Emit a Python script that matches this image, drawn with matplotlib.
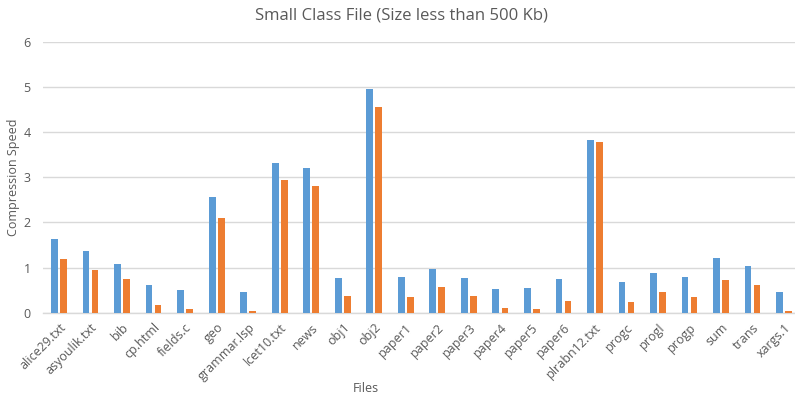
import numpy as np
import matplotlib
matplotlib.use("Agg")
import matplotlib.pyplot as plt

plt.rcParams['font.family'] = ['Open Sans', 'DejaVu Sans']

# ------------------------------------------------------------------
# Data: compression speed per Canterbury/Calgary small file
# ------------------------------------------------------------------
files = ["alice29.txt", "asyoulik.txt", "bib", "cp.html", "fields.c", "geo",
         "grammar.lsp", "lcet10.txt", "news", "obj1", "obj2", "paper1",
         "paper2", "paper3", "paper4", "paper5", "paper6", "plrabn12.txt",
         "progc", "progl", "progp", "sum", "trans", "xargs.1"]

series_blue = [1.64, 1.37, 1.08, 0.61, 0.51, 2.57, 0.45, 3.31, 3.20, 0.78,
               4.95, 0.80, 0.97, 0.78, 0.52, 0.55, 0.75, 3.83, 0.67, 0.89,
               0.80, 1.21, 1.04, 0.45]
series_orange = [1.19, 0.95, 0.75, 0.16, 0.08, 2.11, 0.03, 2.94, 2.81, 0.38,
                 4.55, 0.35, 0.58, 0.38, 0.10, 0.08, 0.27, 3.78, 0.24, 0.46,
                 0.34, 0.73, 0.62, 0.03]

yticks = [0, 1, 2, 3, 4, 5, 6]

BLUE = "#5B9BD5"
ORANGE = "#ED7D31"
TEXT = "#595959"
GRID = "#D9D9D9"

W, H = 795, 399
fig = plt.figure(figsize=(W / 100, H / 100), dpi=100)

# plot area in pixel coordinates (runs slightly past the right edge)
left, right, top, bottom = 43.3, 799.8, 42.0, 312.7
ax = fig.add_axes([left / W, 1 - bottom / H, (right - left) / W, (bottom - top) / H])

x = np.arange(len(files))
bw = 0.213
off = 0.143
ax.bar(x - off, series_blue, width=bw, color=BLUE, linewidth=0, zorder=3)
ax.bar(x + off, series_orange, width=bw, color=ORANGE, linewidth=0, zorder=3)

ax.set_xlim(-0.5, len(files) - 0.5)
ax.set_ylim(0, 6)
ax.set_yticks(yticks)
ax.set_yticklabels([str(t) for t in yticks], fontsize=9, color=TEXT)
ax.set_xticks(x)
ax.set_xticklabels(files, rotation=45, ha="right", rotation_mode="anchor",
                   fontsize=9, color=TEXT)
ax.tick_params(axis="both", length=0)
ax.tick_params(axis="x", pad=6)
ax.tick_params(axis="y", pad=9)

ax.grid(axis="y", color=GRID, linewidth=1.0, zorder=0)
for side in ["top", "right", "left"]:
    ax.spines[side].set_visible(False)
ax.spines["bottom"].set_color(GRID)
ax.spines["bottom"].set_linewidth(1.0)

fig.text(401 / W, 1 - 15 / H, "Small Class File (Size less than 500 Kb)",
         ha="center", va="center", fontsize=12, color=TEXT)
fig.text(366 / W, 1 - 388 / H, "Files", ha="center", va="center",
         fontsize=9, color=TEXT)
fig.text(14 / W, 1 - 177 / H, "Compression Speed", ha="center", va="center",
         rotation=90, fontsize=9, color=TEXT)

fig.savefig("out.png", dpi=100)
